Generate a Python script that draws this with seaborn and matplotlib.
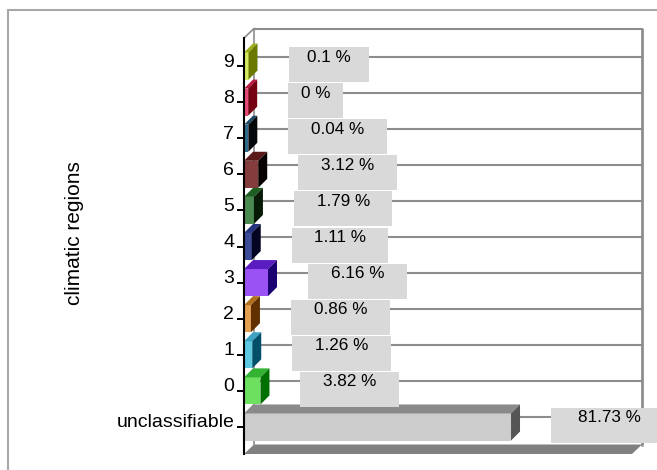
import numpy as np
import pandas as pd
import matplotlib
matplotlib.use("Agg")
import matplotlib.pyplot as plt
import seaborn as sns
from matplotlib.patches import Polygon, Rectangle
from matplotlib.lines import Line2D
from matplotlib.transforms import IdentityTransform, ScaledTranslation

# ---------------- data ----------------
regions = ['9', '8', '7', '6', '5', '4', '3', '2', '1', '0', 'unclassifiable']
shares = [0.1, 0.0, 0.04, 3.12, 1.79, 1.11, 6.16, 0.86, 1.26, 3.82, 81.73]
value_labels = ['0.1 %', '0 %', '0.04 %', '3.12 %', '1.79 %', '1.11 %',
                '6.16 %', '0.86 %', '1.26 %', '3.82 %', '81.73 %']
axis_title = 'climatic regions'

front_colors = ['#d6ea62', '#e84a78', '#2f6a8a', '#843c3c', '#4a8a50', '#3c4c94',
                '#9a52f4', '#e0a050', '#5cc8e2', '#6ee060', '#cccccc']
top_colors = ['#9cae1a', '#b81c44', '#1e4a66', '#5a1a1a', '#1e5e22', '#24347e',
              '#5a1cc0', '#b07020', '#3ea2c2', '#34b234', '#8a8a8a']
side_colors = ['#6a7a00', '#760010', '#06090c', '#060000', '#061a06', '#050522',
               '#1a0070', '#603000', '#00506a', '#007000', '#555555']

# ---------------- style ----------------
sns.set_style("white")
plt.rcParams['font.family'] = ['Liberation Sans', 'DejaVu Sans']

W, H, DPI = 657, 470, 100
fig = plt.figure(figsize=(W / DPI, H / DPI), dpi=DPI)
fig.patch.set_facecolor('white')
ax = fig.add_axes([244 / W, 1 - 454 / H, 388 / W, 416 / H])
ax.set_facecolor('none')

df = pd.DataFrame({'region': regions, 'share': shares})
palette = dict(zip(regions, front_colors))
sns.barplot(data=df, x='share', y='region', order=regions, hue='region',
            hue_order=regions, palette=palette, legend=False, width=0.75,
            saturation=1, linewidth=0, ax=ax, zorder=3)

X0, X1 = -1.3, 119.35
Y_BOT, Y_TOP = 10.748, -0.776
BAR_H = 0.75
# bars start at the axis plane
for p in ax.patches:
    w = p.get_width()
    p.set_x(X0)
    p.set_width(w - X0)

ax.set_xlim(X0, X1)
ax.set_ylim(Y_BOT, Y_TOP)

for s in ['top', 'right', 'bottom']:
    ax.spines[s].set_visible(False)
ax.spines['left'].set_color('black')
ax.spines['left'].set_linewidth(1.5)
ax.spines['left'].set_zorder(6)
ax.set_xlabel('')
ax.tick_params(axis='x', bottom=False, labelbottom=False)
ax.tick_params(axis='y', left=True, length=5, width=1.4, color='black',
               pad=2, labelsize=14, labelcolor='black')
ax.set_ylabel(axis_title, fontsize=15, va='center', color='black')
ax.yaxis.set_label_coords((74 - 244) / 388, (454 - 233) / 416)
for lab in ax.get_yticklabels():
    lab.set_transform(lab.get_transform() + ScaledTranslation(0, 6 / DPI, fig.dpi_scale_trans))

T = ax.transData.transform
ID = IdentityTransform()
GDX, GDY = 10, 9.5   # depth of back wall (pixels)
BDX, BDY = 9, 9      # depth of bars (pixels)
GRID = '#8c8c8c'

def dline(xs, ys, **kw):
    ln = Line2D(xs, ys, transform=ID, clip_on=False, **kw)
    ax.add_artist(ln)

# back wall and floor
bl = T((X0, Y_BOT)); br = T((X1, Y_BOT))
tl = T((X0, Y_TOP)); tr = T((X1, Y_TOP))
floor = Polygon([bl, br, (br[0] + GDX, br[1] + GDY), (bl[0] + GDX, bl[1] + GDY)],
                closed=True, transform=ID, facecolor='#808080', edgecolor='none',
                zorder=1, clip_on=False)
ax.add_patch(floor)
dline([tl[0] + GDX, tr[0] + GDX], [tl[1] + GDY, tr[1] + GDY], color=GRID, lw=1.5, zorder=1)
dline([tr[0] + GDX, br[0] + GDX], [tr[1] + GDY, br[1] + GDY], color='#8e8e8e', lw=2.0, zorder=1)
dline([tl[0] + GDX, bl[0] + GDX], [tl[1] + GDY, bl[1] + GDY], color=GRID, lw=1.2, zorder=1)
dline([tl[0], tl[0] + GDX], [tl[1], tl[1] + GDY], color=GRID, lw=1.2, zorder=1)

for i in range(len(regions)):
    a = T((X0, i)); b = T((X1, i))
    dline([a[0] + GDX, b[0] + GDX], [a[1] + GDY, b[1] + GDY], color=GRID, lw=1.5, zorder=1)

# 3D faces of bars
for i, v in enumerate(shares):
    xl, yt = T((X0, i - BAR_H / 2))
    xr, yb = T((v, i + BAR_H / 2))
    top = Polygon([(xl, yt), (xr, yt), (xr + BDX, yt + BDY), (xl + BDX, yt + BDY)],
                  closed=True, transform=ID, facecolor=top_colors[i], edgecolor='none',
                  zorder=3, clip_on=False)
    side = Polygon([(xr, yb), (xr, yt), (xr + BDX, yt + BDY), (xr + BDX, yb + BDY)],
                   closed=True, transform=ID, facecolor=side_colors[i], edgecolor='none',
                   zorder=3, clip_on=False)
    ax.add_patch(top)
    ax.add_patch(side)

# value labels in grey boxes
renderer = fig.canvas.get_renderer()
for i, (v, txt) in enumerate(zip(shares, value_labels)):
    xd, yd = T((v, i))
    t = ax.text(0, 0, txt, transform=ID, fontsize=12.3, color='black',
                ha='center', va='center', zorder=8, clip_on=False)
    w = t.get_window_extent(renderer).width
    x_left = xd + 40
    bw = 1.85 * w
    t.set_position((x_left + bw / 2, yd + 9))
    box = Rectangle((x_left, yd - 16), bw, 35, transform=ID, facecolor='#d9d9d9',
                    edgecolor='none', zorder=7, clip_on=False)
    ax.add_patch(box)

# outer frame
fig.add_artist(Line2D([8, W], [H - 10, H - 10], transform=ID, color='#a8a8a8', lw=1.5))
fig.add_artist(Line2D([8, 8], [H - 10, 0], transform=ID, color='#a8a8a8', lw=1.5))

fig.savefig('out.png', dpi=DPI)
